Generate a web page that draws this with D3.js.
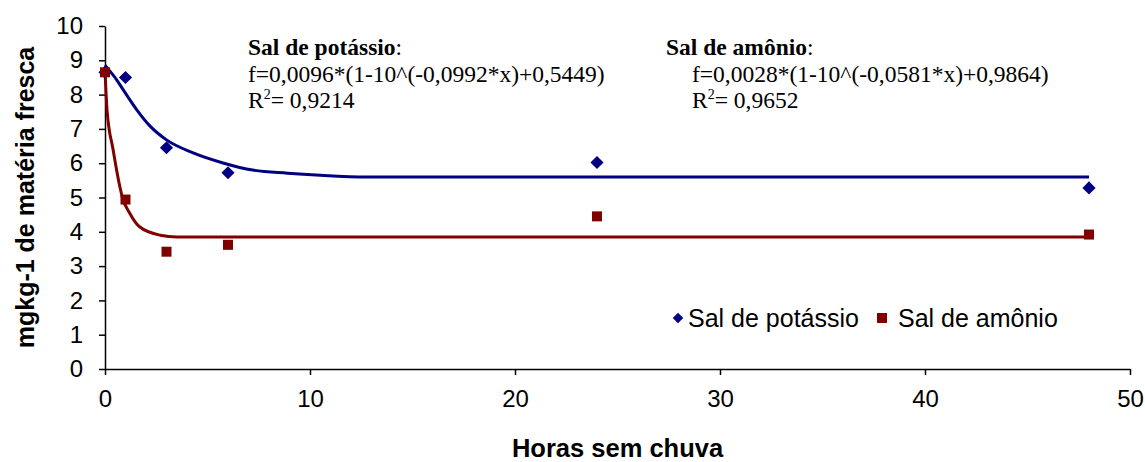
<!DOCTYPE html>
<html>
<head>
<meta charset="utf-8">
<script src="https://cdn.jsdelivr.net/npm/d3@7"></script>
<style>
  body { margin: 0; background: #fff; }
  text { font-family: 'Liberation Sans', Arial, sans-serif; }
  .note { font-family: 'Liberation Serif', 'Times New Roman', serif; font-size: 23.5px; }
</style>
</head>
<body>
<script>
// observed points
var hours = [0, 1, 3, 6, 24, 48]
var potassio = [8.65, 8.5, 6.45, 5.72, 6.02, 5.28]
var amonio = [8.65, 4.94, 3.42, 3.62, 4.45, 3.92]

// fitted curves
var fitPotX = [0, 0.57, 0.9, 1.56, 2.2, 3.0, 4.3, 5.8, 7.2, 8.9, 10.5, 12.8, 48]
var fitPotY = [8.86, 8.43, 8.13, 7.55, 7.08, 6.68, 6.3, 6.0, 5.8, 5.71, 5.65, 5.6, 5.6]
var fitAmoX = [0, 0.1, 0.4, 0.73, 0.85, 1.2, 1.7, 2.7, 3.5, 48]
var fitAmoY = [8.7, 7.55, 6.38, 5.3, 5.0, 4.55, 4.14, 3.9, 3.85, 3.85]

var xTicks = [0, 10, 20, 30, 40, 50]
var yTicks = [0, 1, 2, 3, 4, 5, 6, 7, 8, 9, 10]

var margin = {top: 26, right: 15, bottom: 93, left: 105}
var width = 1145 - margin.left - margin.right
var height = 462 - margin.top - margin.bottom

var blue = '#000080'
var red = '#800000'

var x = d3.scaleLinear().domain([0, 50]).range([0, width])
var y = d3.scaleLinear().domain([0, 10]).range([height, 0])

var svg = d3.select('body').append('svg')
  .attr('width', 1145)
  .attr('height', 462)
  .append('g')
  .attr('transform', 'translate(' + margin.left + ',' + margin.top + ')')

var xAxis = d3.axisBottom(x).tickValues(xTicks).tickSize(6).tickSizeOuter(0).tickPadding(15)
var yAxis = d3.axisLeft(y).tickValues(yTicks).tickSize(6).tickSizeOuter(0).tickPadding(16)

svg.append('g')
  .attr('transform', 'translate(0,' + height + ')')
  .call(xAxis)
svg.append('g').call(yAxis)

svg.selectAll('.domain, .tick line').attr('stroke', '#000').attr('stroke-width', 1.5)
svg.selectAll('.tick text').attr('font-size', 24).attr('fill', '#000')
  .style('font-family', "'Liberation Sans', Arial, sans-serif")

svg.append('text')
  .attr('transform', 'translate(' + (-71) + ',' + (height / 2) + ') rotate(-90)')
  .attr('text-anchor', 'middle')
  .attr('font-size', 25)
  .attr('font-weight', 'bold')
  .text('mgkg-1 de matéria fresca')

svg.append('text')
  .attr('x', width / 2)
  .attr('y', height + 88)
  .attr('text-anchor', 'middle')
  .attr('font-size', 25.5)
  .attr('font-weight', 'bold')
  .text('Horas sem chuva')

var line = d3.line()
  .x(function (d) { return x(d[0]) })
  .y(function (d) { return y(d[1]) })
  .curve(d3.curveMonotoneX)

svg.append('path')
  .datum(d3.zip(fitPotX, fitPotY))
  .attr('fill', 'none')
  .attr('stroke', blue)
  .attr('stroke-width', 3)
  .attr('d', line)

svg.append('path')
  .datum(d3.zip(fitAmoX, fitAmoY))
  .attr('fill', 'none')
  .attr('stroke', red)
  .attr('stroke-width', 3)
  .attr('d', line)

var diamond = d3.symbol().type(d3.symbolDiamond2).size(110)

svg.selectAll('.pot')
  .data(d3.zip(hours, potassio))
  .enter().append('path')
  .attr('class', 'pot')
  .attr('transform', function (d) { return 'translate(' + x(d[0]) + ',' + y(d[1]) + ')' })
  .attr('d', diamond)
  .attr('fill', blue)

svg.selectAll('.amo')
  .data(d3.zip(hours, amonio))
  .enter().append('rect')
  .attr('class', 'amo')
  .attr('x', function (d) { return x(d[0]) - 5 })
  .attr('y', function (d) { return y(d[1]) - 5 })
  .attr('width', 10)
  .attr('height', 10)
  .attr('fill', red)

// equations
function note (x0, x1, title, formula, r2) {
  var t = svg.append('text').attr('class', 'note').attr('x', x0).attr('y', 29)
  t.append('tspan').attr('font-weight', 'bold').text(title)
  t.append('tspan').text(':')
  svg.append('text').attr('class', 'note').attr('x', x1).attr('y', 56).text(formula)
  var r = svg.append('text').attr('class', 'note').attr('x', x1).attr('y', 82)
  r.append('tspan').text('R')
  r.append('tspan').attr('font-size', 14).attr('dy', -9).text('2')
  r.append('tspan').attr('dy', 9).text('= ' + r2)
}
note(143, 143, 'Sal de potássio', 'f=0,0096*(1-10^(-0,0992*x)+0,5449)', '0,9214')
note(561, 587, 'Sal de amônio', 'f=0,0028*(1-10^(-0,0581*x)+0,9864)', '0,9652')

// legend
var legend = svg.append('g').attr('transform', 'translate(573,292)')
legend.append('path')
  .attr('d', d3.symbol().type(d3.symbolDiamond2).size(70))
  .attr('fill', blue)
legend.append('text').attr('x', 10).attr('y', 9).attr('font-size', 25).text('Sal de potássio')
legend.append('rect').attr('x', 199).attr('y', -5).attr('width', 10).attr('height', 10).attr('fill', red)
legend.append('text').attr('x', 220).attr('y', 9).attr('font-size', 25).text('Sal de amônio')
</script>
</body>
</html>
